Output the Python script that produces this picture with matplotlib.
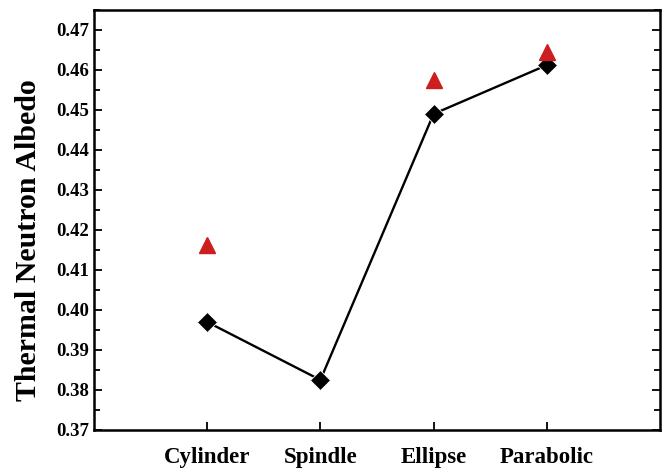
import numpy as np
import matplotlib
matplotlib.use('Agg')
import matplotlib.pyplot as plt
from matplotlib.ticker import MultipleLocator

# data
shapes = ['Cylinder', 'Spindle', 'Ellipse', 'Parabolic']
albedo_line = [0.3970, 0.3825, 0.4490, 0.4612]
albedo_tri = [0.4163, np.nan, 0.4575, 0.4645]

plt.rcParams['font.family'] = ['Liberation Serif', 'DejaVu Serif']
plt.rcParams['font.weight'] = 'bold'

fig = plt.figure(figsize=(6.69, 4.72), dpi=100)
ax = fig.add_axes([0.1405, 0.089, 0.846, 0.890])

x = np.arange(1, len(shapes) + 1)
ax.plot(x, albedo_line, color='black', linewidth=1.7, marker='D',
        markersize=10.5, markerfacecolor='black', markeredgecolor='white',
        markeredgewidth=0.6, zorder=3)
ax.plot(x, albedo_tri, linestyle='none', marker='^', markersize=12,
        color='#cc1e1e', markeredgecolor='#cc1e1e', zorder=4)

ax.set_xlim(0, 5)
ax.set_ylim(0.37, 0.475)
ax.set_xticks(x)
ax.set_xticklabels(shapes, fontsize=16.5, fontweight='bold')
ax.yaxis.set_minor_locator(MultipleLocator(0.005))
ax.set_yticks(np.arange(0.37, 0.4701, 0.01))
ax.set_yticklabels(['%.2f' % v for v in np.arange(0.37, 0.4701, 0.01)],
                   fontsize=13.5, fontweight='bold')
ax.set_ylabel('Thermal Neutron Albedo', fontsize=21.5, fontweight='bold')
ax.yaxis.set_label_coords(-0.092, 0.452)

ax.tick_params(axis='both', which='major', direction='in', length=6,
               width=1.3, right=True, top=False)
ax.tick_params(axis='y', which='minor', direction='in', length=4,
               width=1.3, right=True)
ax.tick_params(axis='x', which='major', pad=12)
for s in ax.spines.values():
    s.set_linewidth(1.8)

fig.savefig('out.png', dpi=100)
